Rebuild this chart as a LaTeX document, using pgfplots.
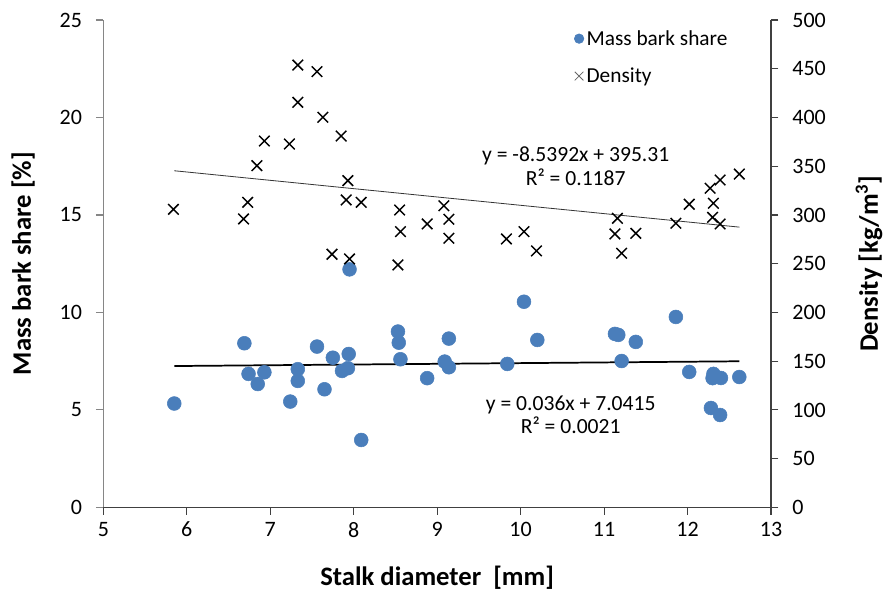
\documentclass[border=0pt]{standalone}
\usepackage{fontspec}
\setmainfont{Carlito}
\usepackage{pgfplots}
\usepackage{pgfplotstable}
\pgfplotsset{compat=1.18}
\definecolor{dotblue}{HTML}{4A7EBB}
\definecolor{axgray}{HTML}{868686}
\definecolor{axdark}{HTML}{404040}

\pgfplotstableread{
x m
5.85 5.33
6.69 8.42
6.74 6.85
6.85 6.33
6.93 6.93
7.24 5.43
7.33 7.09
7.33 6.49
7.56 8.25
7.65 6.06
7.75 7.68
7.86 7.00
7.94 7.87
7.93 7.14
7.95 12.21
8.09 3.46
8.53 9.02
8.54 8.45
8.56 7.60
8.88 6.63
9.09 7.48
9.14 7.19
9.14 8.66
9.84 7.36
10.04 10.55
10.20 8.59
11.13 8.90
11.17 8.85
11.21 7.51
11.38 8.49
11.86 9.77
12.02 6.95
12.28 5.10
12.31 6.85
12.30 6.63
12.40 6.64
12.39 4.74
12.62 6.69
}\massdata

\pgfplotstableread{
x d
5.84 305.8
7.33 453.8
7.56 447.0
7.33 415.6
7.63 400.2
7.85 381.0
6.93 375.9
7.23 372.8
6.84 350.6
7.93 335.2
6.73 313.0
6.68 295.9
7.91 315.4
8.09 313.0
7.74 259.7
7.95 254.9
8.55 305.1
8.56 282.9
8.53 248.7
8.88 290.8
9.08 309.5
9.14 295.6
9.14 276.1
9.83 275.4
10.04 282.9
10.19 263.1
11.16 296.6
11.13 280.5
11.21 260.7
11.38 281.2
11.86 291.5
12.02 311.0
12.27 327.4
12.39 335.9
12.62 342.0
12.31 312.0
12.30 297.6
12.39 290.8
}\densdata

\begin{document}
\begin{tikzpicture}
\pgfplotsset{
  common/.style={
    scale only axis, width=500.8pt, height=365.6pt,
    xmin=5, xmax=13,
    tick align=outside, major tick length=5.5pt,
    /pgf/number format/assume math mode=true,
    tick label style={font=\fontsize{16.5}{19}\selectfont},
    label style={font=\fontsize{20}{24}\selectfont\bfseries},
  }
}
\begin{axis}[common,
  ymin=0, ymax=25,
  axis x line*=bottom, axis y line*=left,
  xtick={5,6,...,13}, ytick={0,5,...,25},
  x axis line style={axdark, line width=0.8pt},
  y axis line style={axgray, line width=0.9pt},
  xtick style={axdark, line width=0.8pt},
  ytick style={axgray, line width=0.8pt},
  yticklabel style={xshift=-7pt},
  xticklabel style={yshift=-2pt},
  xlabel={Stalk diameter\ \ [mm]},
  ylabel={Mass bark share [\%]},
  xlabel style={at={(axis description cs:0.5,-0.1446)}, anchor=center},
  ylabel style={at={(axis description cs:-0.120,0.5)}, anchor=center},
]
\addplot[only marks, mark=*, mark size=5.2pt, mark options={fill=dotblue, draw=dotblue}] table[x=x,y=m]{\massdata};
\addplot[black, line width=1.3pt] coordinates {(5.85,7.252) (12.62,7.496)};
\node[align=center, font=\fontsize{16.2}{17.5}\selectfont] at (axis cs:10.6,4.75) {y = 0.036x + 7.0415\\R² = 0.0021};
\node[align=center, font=\fontsize{16.2}{17.5}\selectfont] at (axis cs:10.66,17.5) {y = -8.5392x + 395.31\\R² = 0.1187};
\end{axis}
\begin{axis}[common,
  ymin=0, ymax=500,
  axis x line=none, axis y line*=right,
  ytick={0,50,...,500},
  y axis line style={axdark, line width=0.8pt},
  ytick style={axdark, line width=0.8pt},
  yticklabel style={xshift=7pt},
  ylabel={Density [kg/m\textsuperscript{3}]},
  ylabel style={at={(axis description cs:1.1468,0.5)}, anchor=center},
  legend style={at={(0.705,0.985)}, anchor=north west, draw=none, fill=none,
    font=\fontsize{16}{19}\selectfont, row sep=11.5pt, inner sep=0pt},
  legend cell align=left,
  legend image code/.code={\draw[#1] plot coordinates {(0.14cm,0cm)};},
]
\addlegendimage{only marks, mark=*, mark size=3.6pt, mark options={fill=dotblue, draw=dotblue}}
\addlegendentry{Mass bark share}
\addlegendimage{only marks, mark=x, mark size=4.6pt, mark options={draw=black!60, line width=0.6pt}}
\addlegendentry{Density}
\addplot[only marks, mark=x, mark size=5.6pt, mark options={draw=black, line width=1.1pt}, forget plot] table[x=x,y=d]{\densdata};
\addplot[black!80, line width=0.6pt, forget plot] coordinates {(5.85,345.36) (12.62,287.55)};
\coordinate (sw) at (rel axis cs:0,0);
\coordinate (ne) at (rel axis cs:1,1);
\end{axis}
\pgfresetboundingbox
\path ([xshift=-77.5pt,yshift=-65.6pt]sw) rectangle ([xshift=85.5pt,yshift=15pt]ne);
\end{tikzpicture}
\end{document}
